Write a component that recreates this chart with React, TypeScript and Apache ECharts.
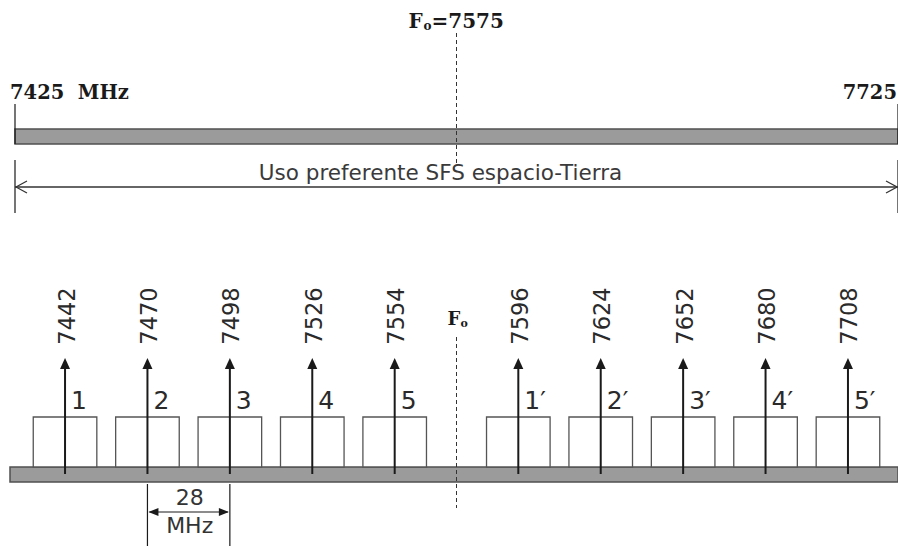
import React, { useEffect, useRef } from "react";
import * as echarts from "echarts";

// ---- data ----
const bandStart = 7425;
const bandEnd = 7725;
const centerFreq = 7575;
const channelFreqs = [7442, 7470, 7498, 7526, 7554, 7596, 7624, 7652, 7680, 7708];
const channelNames = ["1", "2", "3", "4", "5", "1′", "2′", "3′", "4′", "5′"];
const channelBandwidth = 21.6;
const spacingPair = [7470, 7498];
const spacingText = ["28", "MHz"];
const bandTitle = "Uso preferente SFS espacio-Tierra";
const bandStartLabel = "7425  MHz";
const bandEndLabel = "7725";
const centerLabel = "=7575";

// ---- layout levels (vertical positions on the hidden inverted axis) ----
const LY = {
  f0Title: 21,
  dashTop: 33,
  dashTopEnd: 165,
  edgeLabel: 92,
  edgeTickTop: 104,
  topBarTop: 129,
  topBarBot: 144,
  spanTickTop: 160,
  spanTickBot: 213,
  spanText: 172,
  spanArrow: 187,
  freqLabel: 316,
  f0Label: 318,
  dashBotStart: 337,
  arrowTip: 358,
  chName: 400,
  boxTop: 417,
  barTop: 467,
  barBot: 482,
  arrowBase: 474,
  dimTop: 484,
  dimText1: 497,
  dimArrow: 512,
  dimText2: 525,
  dimBot: 546,
  dashBotEnd: 508,
};

const SERIF = "'DejaVu Serif', serif";
const SANS = "'DejaVu Sans', Verdana, sans-serif";
const INK = "#1a1a1a";
const BAR_FILL = "#9b9b9b";
const BAR_EDGE = "#505050";

function renderStatic(params: any, api: any) {
  const X = (v: number) => api.coord([v, 0])[0];
  const Y = (v: number) => api.coord([bandStart, v])[1];
  const x0 = X(bandStart);
  const x1 = X(bandEnd);
  const xc = X(centerFreq);
  const children: any[] = [];

  // top band
  children.push({
    type: "rect",
    shape: { x: x0, y: Y(LY.topBarTop), width: x1 - x0, height: Y(LY.topBarBot) - Y(LY.topBarTop) },
    style: { fill: BAR_FILL, stroke: BAR_EDGE, lineWidth: 1.5 },
  });
  // edge ticks
  for (const xx of [x0, x1]) {
    children.push({
      type: "line",
      shape: { x1: xx, y1: Y(LY.edgeTickTop), x2: xx, y2: Y(LY.topBarBot) },
      style: { stroke: INK, lineWidth: 1.2 },
    });
    children.push({
      type: "line",
      shape: { x1: xx, y1: Y(LY.spanTickTop), x2: xx, y2: Y(LY.spanTickBot) },
      style: { stroke: INK, lineWidth: 1.2 },
    });
  }
  // span arrow
  const ya = Y(LY.spanArrow);
  children.push({
    type: "line",
    shape: { x1: x0, y1: ya, x2: x1, y2: ya },
    style: { stroke: "#333", lineWidth: 1.5 },
  });
  children.push({
    type: "polyline",
    shape: { points: [[x0 + 12, ya - 6], [x0 + 1, ya], [x0 + 12, ya + 6]] },
    style: { stroke: "#333", lineWidth: 1.2, fill: null },
  });
  children.push({
    type: "polyline",
    shape: { points: [[x1 - 12, ya - 6], [x1 - 1, ya], [x1 - 12, ya + 6]] },
    style: { stroke: "#333", lineWidth: 1.2, fill: null },
  });
  children.push({
    type: "text",
    x: xc - 16,
    y: Y(LY.spanText),
    style: { text: bandTitle, fontFamily: SANS, fontSize: 21.5, fill: "#3a3a3a", align: "center", verticalAlign: "middle" },
  });
  // edge labels
  children.push({
    type: "text",
    x: x0 - 5,
    y: Y(LY.edgeLabel),
    style: { text: bandStartLabel, fontFamily: SERIF, fontWeight: "bold", fontSize: 19.5, fill: INK, align: "left", verticalAlign: "middle" },
  });
  children.push({
    type: "text",
    x: 897,
    y: Y(LY.edgeLabel),
    style: { text: bandEndLabel, fontFamily: SERIF, fontWeight: "bold", fontSize: 19.5, fill: INK, align: "right", verticalAlign: "middle" },
  });
  // F0 title
  const fx = xc - 48;
  children.push({
    type: "text", x: fx, y: Y(LY.f0Title),
    style: { text: "F", fontFamily: SERIF, fontWeight: "bold", fontSize: 20, fill: INK, align: "left", verticalAlign: "middle" },
  });
  children.push({
    type: "text", x: fx + 15, y: Y(LY.f0Title) + 5,
    style: { text: "o", fontFamily: SERIF, fontWeight: "bold", fontSize: 12, fill: INK, align: "left", verticalAlign: "middle" },
  });
  children.push({
    type: "text", x: fx + 23, y: Y(LY.f0Title),
    style: { text: centerLabel, fontFamily: SERIF, fontWeight: "bold", fontSize: 20, fill: INK, align: "left", verticalAlign: "middle" },
  });
  // F0 lower label
  const gx = xc - 9;
  children.push({
    type: "text", x: gx, y: Y(LY.f0Label),
    style: { text: "F", fontFamily: SERIF, fontWeight: "bold", fontSize: 18, fill: INK, align: "left", verticalAlign: "middle" },
  });
  children.push({
    type: "text", x: gx + 13, y: Y(LY.f0Label) + 5,
    style: { text: "o", fontFamily: SERIF, fontWeight: "bold", fontSize: 11, fill: INK, align: "left", verticalAlign: "middle" },
  });
  // bottom band
  children.push({
    type: "rect",
    shape: { x: x0 - 5, y: Y(LY.barTop), width: x1 - x0 + 5, height: Y(LY.barBot) - Y(LY.barTop) },
    style: { fill: BAR_FILL, stroke: BAR_EDGE, lineWidth: 1.5 },
  });
  // center dashed line
  children.push({
    type: "line",
    shape: { x1: xc, y1: Y(LY.dashTop), x2: xc, y2: Y(LY.dashTopEnd) },
    style: { stroke: "#333", lineWidth: 1, lineDash: [4, 3] },
  });
  children.push({
    type: "line",
    shape: { x1: xc, y1: Y(LY.dashBotStart), x2: xc, y2: Y(LY.dashBotEnd) },
    style: { stroke: "#333", lineWidth: 1, lineDash: [4, 3] },
  });
  // 28 MHz dimension
  const da = X(spacingPair[0]);
  const db = X(spacingPair[1]);
  for (const xx of [da, db]) {
    children.push({
      type: "line",
      shape: { x1: xx, y1: Y(LY.dimTop), x2: xx, y2: Y(LY.dimBot) },
      style: { stroke: INK, lineWidth: 1.2 },
    });
  }
  const yd = Y(LY.dimArrow);
  children.push({
    type: "line",
    shape: { x1: da + 2, y1: yd, x2: db - 2, y2: yd },
    style: { stroke: INK, lineWidth: 1.2 },
  });
  children.push({
    type: "polygon",
    shape: { points: [[da + 1, yd], [da + 11, yd - 4], [da + 11, yd + 4]] },
    style: { fill: INK },
  });
  children.push({
    type: "polygon",
    shape: { points: [[db - 1, yd], [db - 11, yd - 4], [db - 11, yd + 4]] },
    style: { fill: INK },
  });
  children.push({
    type: "text", x: (da + db) / 2 + 1, y: Y(LY.dimText1),
    style: { text: spacingText[0], fontFamily: SANS, fontSize: 22, fill: "#333", align: "center", verticalAlign: "middle" },
  });
  children.push({
    type: "text", x: (da + db) / 2 + 1, y: Y(LY.dimText2),
    style: { text: spacingText[1], fontFamily: SANS, fontSize: 22, fill: "#333", align: "center", verticalAlign: "middle" },
  });

  return { type: "group", children };
}

function renderChannel(params: any, api: any) {
  const f = api.value(0);
  const idx = api.value(1);
  const [x, yBoxTop] = api.coord([f, LY.boxTop]);
  const xl = api.coord([f - channelBandwidth / 2, 0])[0];
  const xr = api.coord([f + channelBandwidth / 2, 0])[0];
  const Y = (v: number) => api.coord([f, v])[1];
  const yBarTop = Y(LY.barTop);
  const tip = Y(LY.arrowTip);
  return {
    type: "group",
    children: [
      {
        type: "rect",
        shape: { x: xl, y: yBoxTop, width: xr - xl, height: yBarTop - yBoxTop },
        style: { fill: "#fff", stroke: "#555", lineWidth: 1.3 },
      },
      {
        type: "line",
        shape: { x1: x, y1: Y(LY.arrowBase), x2: x, y2: tip + 8 },
        style: { stroke: INK, lineWidth: 2 },
      },
      {
        type: "polygon",
        shape: { points: [[x, tip], [x - 5, tip + 11], [x + 5, tip + 11]] },
        style: { fill: INK },
      },
      {
        type: "text",
        x: x + 1.5,
        y: Y(LY.freqLabel),
        rotation: Math.PI / 2,
        style: { text: String(f), fontFamily: SANS, fontSize: 22.5, fill: "#2a2a2a", align: "center", verticalAlign: "middle" },
      },
      {
        type: "text",
        x: x + 6,
        y: Y(LY.chName),
        style: { text: channelNames[idx], fontFamily: SANS, fontSize: 25, fill: "#2a2a2a", align: "left", verticalAlign: "middle" },
      },
    ],
  };
}

export default function App() {
  const ref = useRef<HTMLDivElement>(null);
  useEffect(() => {
    if (!ref.current) return;
    const chart = echarts.init(ref.current, null, { renderer: "svg" });
    chart.setOption({
      animation: false,
      backgroundColor: "#ffffff",
      grid: { left: 15, right: -5, top: 0, bottom: 0 },
      xAxis: { type: "value", min: bandStart, max: bandEnd, show: false },
      yAxis: { type: "value", min: 0, max: 547, inverse: true, show: false },
      series: [
        {
          type: "custom",
          clip: false,
          silent: true,
          renderItem: renderStatic,
          data: [[bandStart, 0]],
        },
        {
          type: "custom",
          clip: false,
          silent: true,
          renderItem: renderChannel,
          data: channelFreqs.map((f, i) => [f, i]),
        },
      ],
    });
    return () => chart.dispose();
  }, []);
  return (
    <div
      ref={ref}
      style={{ position: "absolute", left: 0, top: 0, width: 898, height: 547 }}
    />
  );
}
